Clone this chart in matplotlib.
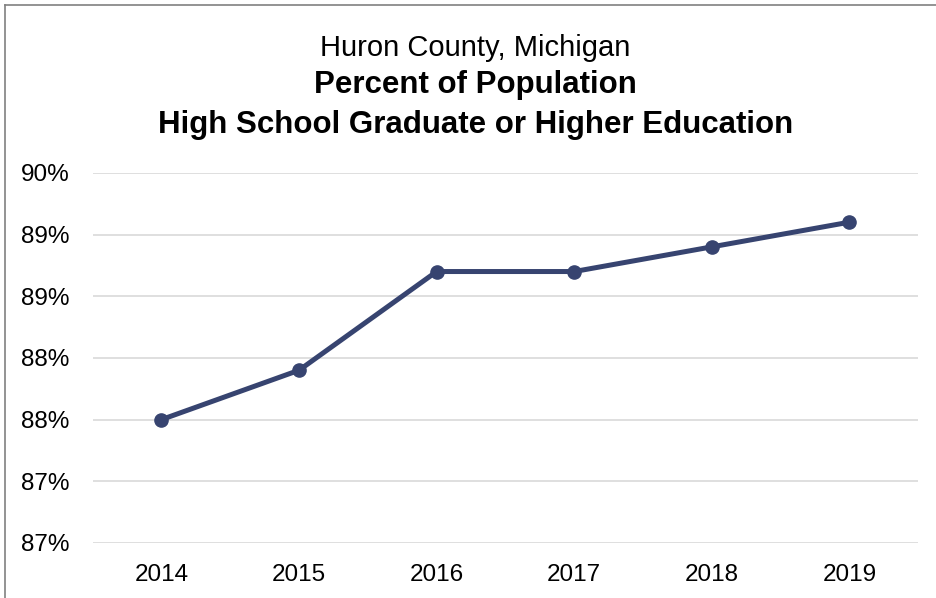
import matplotlib.pyplot as plt
from matplotlib.lines import Line2D

plt.rcParams['font.family'] = ['Liberation Sans', 'DejaVu Sans']

years = ['2014', '2015', '2016', '2017', '2018', '2019']
pct_hs_grad = [88.0, 88.4, 89.2, 89.2, 89.4, 89.6]
y_ticks = [87.0, 87.5, 88.0, 88.5, 89.0, 89.5, 90.0]
y_tick_labels = ['87%', '87%', '88%', '88%', '89%', '89%', '90%']

fig = plt.figure(figsize=(9.36, 5.98), dpi=100)
ax = fig.add_axes([0.099, 0.092, 0.882, 0.619])

# chart frame (top and left edges)
fig.add_artist(Line2D([0.0055, 0.0055], [0, 0.992], transform=fig.transFigure,
                      color='#808080', lw=1.2))
fig.add_artist(Line2D([0.0055, 1], [0.992, 0.992], transform=fig.transFigure,
                      color='#808080', lw=1.2))

x = range(len(years))
ax.plot(x, pct_hs_grad, color='#374470', lw=3.6, marker='o', ms=9.5,
        solid_capstyle='round', zorder=3)

ax.set_xlim(-0.5, len(years) - 0.5)
ax.set_ylim(87.0, 90.0)
ax.set_xticks(list(x))
ax.set_xticklabels(years)
ax.set_yticks(y_ticks)
ax.set_yticklabels(y_tick_labels)
ax.tick_params(axis='both', length=0, labelsize=17.5, colors='black')
ax.tick_params(axis='y', pad=16.5)
ax.tick_params(axis='x', pad=15)
ax.grid(axis='y', color='#d9d9d9', lw=1.2)
ax.set_axisbelow(True)
for s in ax.spines.values():
    s.set_visible(False)

fig.text(0.508, 0.920, 'Huron County, Michigan', ha='center', va='center', fontsize=21)
fig.text(0.508, 0.858, 'Percent of Population', ha='center', va='center',
         fontsize=22.5, fontweight='bold')
fig.text(0.508, 0.791, 'High School Graduate or Higher Education', ha='center',
         va='center', fontsize=22.5, fontweight='bold')

fig.savefig('out.png', dpi=100, facecolor='white')
